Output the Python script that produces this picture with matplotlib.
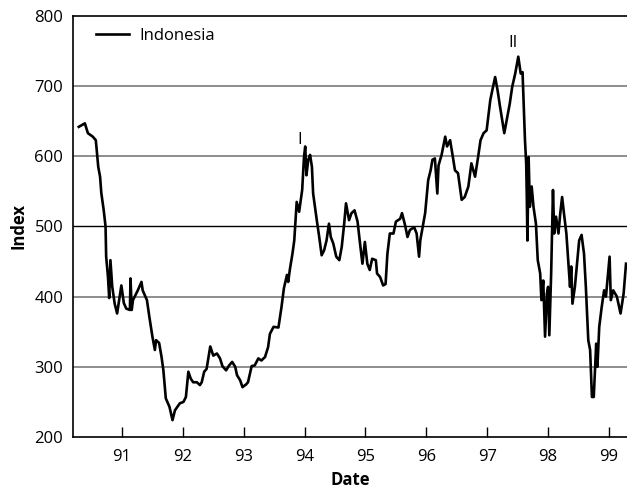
import matplotlib
matplotlib.use("Agg")
import matplotlib.pyplot as plt

plt.rcParams['font.family'] = ['Open Sans', 'DejaVu Sans']

# Indonesia index (decimal year, value)
years = [
    90.29, 90.39, 90.44, 90.52, 90.57, 90.61, 90.64, 90.66, 90.70, 90.73,
    90.74, 90.77, 90.79, 90.81, 90.84, 90.88, 90.92, 90.99, 91.03, 91.07,
    91.13, 91.14, 91.16, 91.18, 91.26, 91.32, 91.34, 91.41, 91.45, 91.50,
    91.54, 91.56, 91.61, 91.65, 91.68, 91.72, 91.78, 91.83, 91.87, 91.95,
    92.01, 92.05, 92.09, 92.13, 92.17, 92.23, 92.28, 92.31, 92.35, 92.39,
    92.45, 92.50, 92.56, 92.61, 92.65, 92.71, 92.76, 92.81, 92.86, 92.89,
    92.94, 92.98, 93.04, 93.07, 93.13, 93.18, 93.24, 93.29, 93.35, 93.40,
    93.43, 93.49, 93.57, 93.62, 93.66, 93.71, 93.73, 93.76, 93.80, 93.83,
    93.87, 93.91, 93.96, 93.99, 94.01, 94.03, 94.06, 94.09, 94.12, 94.14,
    94.20, 94.24, 94.28, 94.32, 94.36, 94.40, 94.43, 94.47, 94.52, 94.57,
    94.61, 94.65, 94.68, 94.73, 94.77, 94.82, 94.87, 94.91, 94.95, 94.99,
    95.03, 95.07, 95.11, 95.17, 95.19, 95.24, 95.29, 95.33, 95.36, 95.40,
    95.46, 95.50, 95.57, 95.60, 95.65, 95.69, 95.73, 95.80, 95.84, 95.88,
    95.90, 95.95, 95.98, 96.00, 96.03, 96.07, 96.10, 96.14, 96.18, 96.20,
    96.25, 96.31, 96.34, 96.39, 96.43, 96.47, 96.52, 96.58, 96.63, 96.69,
    96.74, 96.80, 96.85, 96.89, 96.94, 96.99, 97.05, 97.09, 97.13, 97.17,
    97.21, 97.28, 97.32, 97.37, 97.41, 97.46, 97.51, 97.55, 97.58, 97.60,
    97.62, 97.64, 97.65, 97.66, 97.68, 97.70, 97.73, 97.76, 97.80, 97.83,
    97.87, 97.89, 97.92, 97.95, 97.98, 98.00, 98.02, 98.05, 98.08, 98.10,
    98.13, 98.17, 98.20, 98.23, 98.26, 98.30, 98.33, 98.36, 98.38, 98.40,
    98.44, 98.47, 98.51, 98.55, 98.59, 98.62, 98.66, 98.69, 98.72, 98.75,
    98.79, 98.81, 98.84, 98.88, 98.92, 98.95, 99.01, 99.03, 99.07, 99.13,
    99.19, 99.24, 99.28,
]
index_values = [
    642, 647, 633, 628, 623, 585, 571, 548, 523, 500,
    457, 428, 398, 452, 414, 390, 376, 416, 391, 383,
    381, 426, 381, 395, 409, 421, 409, 395, 371, 343,
    324, 338, 334, 314, 295, 255, 243, 224, 238, 248,
    250, 257, 293, 283, 278, 278, 274, 278, 293, 297,
    329, 316, 319, 312, 301, 295, 302, 307, 300, 288,
    281, 271, 275, 278, 301, 302, 312, 309, 314, 328,
    347, 357, 356, 385, 412, 431, 421, 440, 461, 480,
    535, 521, 552, 599, 614, 573, 595, 602, 585, 547,
    509, 485, 459, 466, 480, 504, 485, 476, 457, 452,
    471, 504, 533, 509, 519, 523, 507, 476, 447, 478,
    447, 438, 454, 452, 433, 428, 416, 418, 461, 490,
    490, 507, 511, 519, 502, 485, 495, 499, 490, 457,
    480, 504, 519, 538, 566, 580, 595, 597, 547, 587,
    602, 628, 614, 623, 602, 580, 576, 538, 542, 557,
    590, 571, 599, 623, 633, 637, 680, 697, 713, 694,
    671, 633, 652, 675, 699, 718, 742, 718, 720, 671,
    623, 590, 542, 480, 599, 528, 557, 528, 504, 452,
    433, 395, 423, 343, 404, 414, 345, 433, 552, 490,
    514, 490, 519, 542, 519, 490, 452, 414, 443, 390,
    414, 443, 480, 488, 461, 414, 338, 324, 257, 257,
    333, 300, 357, 385, 409, 400, 457, 395, 409, 400,
    376, 404, 447,
]

x_ticks = [91, 92, 93, 94, 95, 96, 97, 98, 99]
y_ticks = [200, 300, 400, 500, 600, 700, 800]

fig = plt.figure(figsize=(6.27, 4.95), dpi=100)
ax = fig.add_axes([0.1164, 0.1172, 0.8836, 0.8505])

for y in [300, 400, 600, 700]:
    ax.axhline(y, color='#7a7a7a', linewidth=1.2, zorder=1)
ax.axhline(500, color='black', linewidth=1.0, zorder=1)

ax.plot(years, index_values, color='black', linewidth=1.9, label='Indonesia', zorder=3)

ax.text(93.92, 612, 'I', ha='center', va='bottom', fontsize=12)
ax.text(97.42, 750, 'II', ha='center', va='bottom', fontsize=12)

ax.set_xlim(90.195, 99.296)
ax.set_ylim(200, 800)
ax.set_xticks(x_ticks)
ax.set_xticklabels([str(t) for t in x_ticks])
ax.set_yticks(y_ticks)

ax.tick_params(axis='x', direction='in', length=7, width=1, pad=9, labelsize=12)
ax.tick_params(axis='y', length=0, pad=7, labelsize=12)

for side in ['left', 'bottom', 'top']:
    ax.spines[side].set_color('black')
    ax.spines[side].set_linewidth(1.2)
ax.spines['right'].set_visible(False)

ax.set_xlabel('Date', fontweight='bold', fontsize=12, labelpad=4)
ax.set_ylabel('Index', fontweight='bold', fontsize=12, labelpad=5)

ax.legend(loc='upper left', frameon=False, fontsize=12, handlelength=2.0,
          handletextpad=0.6, borderaxespad=0.3, bbox_to_anchor=(0.02, 1.0))

fig.savefig('out.png', dpi=100)
